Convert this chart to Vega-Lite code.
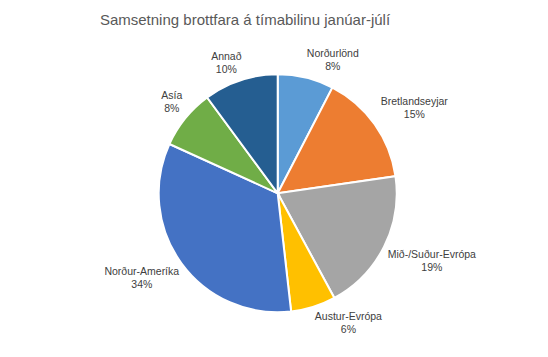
{
  "$schema": "https://vega.github.io/schema/vega-lite/v6.json",
  "autosize": "none",
  "width": 520,
  "height": 300,
  "padding": {"left": 17.7, "top": 43.3, "right": 10.3, "bottom": 13.7},
  "background": "white",
  "title": {
    "text": "Samsetning brottfara á tímabilinu janúar-júlí",
    "font": "Liberation Sans",
    "fontSize": 15,
    "fontWeight": "normal",
    "color": "#595959",
    "anchor": "middle",
    "frame": "group",
    "dx": -32.7,
    "baseline": "middle",
    "offset": 8.3
  },
  "data": {
    "values": [
      {"rank": 1, "name": "Norðurlönd", "share": 0.076},
      {"rank": 2, "name": "Bretlandseyjar", "share": 0.151},
      {"rank": 3, "name": "Mið-/Suður-Evrópa", "share": 0.194},
      {"rank": 4, "name": "Austur-Evrópa", "share": 0.061},
      {"rank": 5, "name": "Norður-Ameríka", "share": 0.336},
      {"rank": 6, "name": "Asía", "share": 0.081},
      {"rank": 7, "name": "Annað", "share": 0.101}
    ]
  },
  "encoding": {
    "theta": {"field": "share", "type": "quantitative", "stack": true},
    "detail": {"field": "name", "type": "nominal"},
    "order": {"field": "rank", "type": "quantitative"}
  },
  "layer": [
    {
      "mark": {"type": "arc", "outerRadius": 119, "stroke": "white", "strokeWidth": 2},
      "encoding": {
        "color": {
          "field": "name",
          "type": "nominal",
          "legend": null,
          "scale": {
            "domain": ["Norðurlönd", "Bretlandseyjar", "Mið-/Suður-Evrópa", "Austur-Evrópa", "Norður-Ameríka", "Asía", "Annað"],
            "range": ["#5B9BD5", "#ED7D31", "#A5A5A5", "#FFC000", "#4472C4", "#70AD47", "#255E91"]
          }
        }
      }
    },
    {
      "mark": {
        "type": "text", "radius": 123, "font": "Liberation Sans", "fontSize": 10.5, "color": "#404040", "align": "center", "baseline": "middle",
        "dx": {"expr": "2.6*length(datum.name)*(sin(PI*(datum.share_start+datum.share_end)) >= 0 ? 1 : -1)"},
        "dy": {"expr": "-6.5 - 13*(cos(PI*(datum.share_start+datum.share_end)) >= 0 ? 1 : -1)"}
      },
      "encoding": {"text": {"field": "name"}}
    },
    {
      "mark": {
        "type": "text", "radius": 123, "font": "Liberation Sans", "fontSize": 10.5, "color": "#404040", "align": "center", "baseline": "middle",
        "dx": {"expr": "2.6*length(datum.name)*(sin(PI*(datum.share_start+datum.share_end)) >= 0 ? 1 : -1)"},
        "dy": {"expr": "6.5 - 13*(cos(PI*(datum.share_start+datum.share_end)) >= 0 ? 1 : -1)"}
      },
      "encoding": {"text": {"field": "share", "format": ".0%"}}
    }
  ],
  "config": {"view": {"stroke": null}}
}
